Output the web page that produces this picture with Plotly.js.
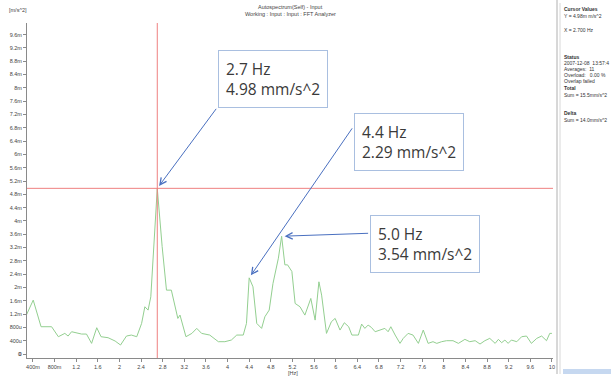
<!DOCTYPE html>
<html><head><meta charset="utf-8">
<script src="https://cdn.plot.ly/plotly-3.0.1.min.js"></script>
<style>html,body{margin:0;padding:0;background:#fff}#chart{width:611px;height:379px}</style>
</head><body><div id="chart"></div>
<script>
// Frequency (Hz) and acceleration (mm/s^2)
const freqHz = [0.27,0.405,0.55,0.745,0.87,0.99,1.05,1.115,1.30,1.39,1.485,1.58,1.66,1.79,1.92,2.02,2.13,2.22,2.32,2.41,2.47,2.53,2.58,2.64,2.70,2.79,2.87,2.96,3.08,3.12,3.23,3.34,3.43,3.52,3.67,3.83,3.95,4.07,4.17,4.29,4.35,4.40,4.47,4.54,4.63,4.69,4.77,4.84,4.94,5.00,5.06,5.11,5.19,5.25,5.34,5.43,5.54,5.62,5.69,5.74,5.83,5.92,5.99,6.08,6.16,6.24,6.30,6.42,6.48,6.54,6.60,6.66,6.73,6.82,6.91,6.97,7.02,7.10,7.19,7.25,7.34,7.43,7.53,7.62,7.71,7.80,7.87,7.96,8.05,8.17,8.27,8.39,8.48,8.58,8.67,8.76,8.85,8.95,9.01,9.07,9.13,9.19,9.25,9.35,9.44,9.53,9.62,9.72,9.81,9.90,9.96,10.0];
const accel = [1.14,1.62,0.82,0.82,0.52,0.62,0.54,0.67,0.60,0.60,0.32,0.79,0.52,0.49,0.39,0.27,0.54,0.57,0.52,0.92,1.42,1.32,1.72,3.23,4.98,3.23,1.92,1.92,1.07,1.17,0.52,0.62,0.77,0.62,0.57,0.37,0.37,0.42,0.57,0.57,0.92,2.29,2.02,0.92,0.77,1.12,1.32,2.12,2.88,3.54,2.68,2.68,2.48,1.52,1.42,1.17,1.67,1.02,2.17,1.77,0.62,0.97,1.07,0.72,0.94,0.82,0.57,0.57,0.90,0.77,0.87,0.80,0.67,0.72,0.77,0.67,0.82,0.57,0.32,0.47,0.62,0.57,0.32,0.72,0.32,0.37,0.32,0.37,0.40,0.40,0.32,0.44,0.37,0.40,0.30,0.40,0.47,0.32,0.44,0.34,0.42,0.32,0.42,0.37,0.52,0.54,0.32,0.47,0.54,0.40,0.62,0.62];

const peakFreq = [2.7, 4.4, 5.0];
const peakAccel = [4.98, 2.29, 3.54];
const peakLabels = ["2.7 Hz<br>4.98 mm/s^2", "4.4 Hz<br>2.29 mm/s^2", "5.0 Hz<br>3.54 mm/s^2"];

const cursorFreq = 2.7;
const cursorAccel = 4.98;

const xTickVals = [0.4,0.8,1.2,1.6,2,2.4,2.8,3.2,3.6,4,4.4,4.8,5.2,5.6,6,6.4,6.8,7.2,7.6,8,8.4,8.8,9.2,9.6,10];
const xTickText = ["400m","800m","1.2","1.6","2","2.4","2.8","3.2","3.6","4","4.4","4.8","5.2","5.6","6","6.4","6.8","7.2","7.6","8","8.4","8.8","9.2","9.6","10"];
const yTickVals = [0,0.4,0.8,1.2,1.6,2,2.4,2.8,3.2,3.6,4,4.4,4.8,5.2,5.6,6,6.4,6.8,7.2,7.6,8,8.4,8.8,9.2,9.6];
const yTickText = ["0","400u","800u","1.2m","1.6m","2m","2.4m","2.8m","3.2m","3.6m","4m","4.4m","4.8m","5.2m","5.6m","6m","6.4m","6.8m","7.2m","7.6m","8m","8.4m","8.8m","9.2m","9.6m"];

const titleLines = ["Autospectrum(Self) - Input", "Working : Input : Input : FFT Analyzer"];

const panelLines = [
  {t:"<b>Cursor Values</b>", y:9},
  {t:"Y = 4.98m m/s^2", y:16},
  {t:"X = 2.700 Hz", y:30},
  {t:"<b>Status</b>", y:57},
  {t:"2007-12-08  13:57:4", y:63},
  {t:"Averages:  11", y:69},
  {t:"Overload:   0.00 %", y:75},
  {t:"Overlap failed", y:81},
  {t:"<b>Total</b>", y:88},
  {t:"Sum = 15.5mm/s^2", y:95},
  {t:"<b>Delta</b>", y:113},
  {t:"Sum = 14.0mm/s^2", y:120}
];

// plot area geometry (pixels)
const L = 27, R = 553, T = 23, B = 358, W = 611, H = 379;
const px = v => (v - L) / (R - L);
const py = v => (B - v) / (B - T);

const boxPos = [[218, 50], [354, 113], [370, 215]];
const arrowTail = [[60, -81], [104, -151], [88, -3]];

const smallFont = {family:'Liberation Sans, Arial, sans-serif', size:5.5, color:'#444'};
const annotations = [];
peakLabels.forEach((txt, i) => {
  annotations.push({
    xref:'paper', yref:'paper', x: px(boxPos[i][0]), y: py(boxPos[i][1]),
    xanchor:'left', yanchor:'top', text: txt, showarrow:false, align:'left',
    font:{family:'Open Sans, Noto Sans, sans-serif', size:15.5, color:'#3a3a3a'},
    bgcolor:'#ffffff', bordercolor:'#a9bfe0', borderwidth:1, borderpad:7
  });
  annotations.push({
    x: peakFreq[i], y: peakAccel[i], xref:'x', yref:'y', text:'', showarrow:true,
    ax: arrowTail[i][0], ay: arrowTail[i][1], arrowhead:5, arrowsize:1.3, arrowwidth:1,
    arrowcolor:'#4a70c0', standoff:3
  });
});
titleLines.forEach((t, i) => {
  annotations.push({xref:'paper', yref:'paper', x: px(290), y: py(7 + 7*i), xanchor:'center', yanchor:'middle',
    text:t, showarrow:false, font:smallFont});
});
panelLines.forEach(p => {
  annotations.push({xref:'paper', yref:'paper', x: px(562), y: py(p.y), xanchor:'left', yanchor:'middle',
    text:p.t, showarrow:false, font:{family:'Liberation Sans, Arial, sans-serif', size:5, color:'#333'}});
});
// zero label of the y axis (Plotly hides it at the axis corner)
annotations.push({xref:'paper', yref:'y', x: px(23), y: yTickVals[0], xanchor:'right', yanchor:'middle',
  text: yTickText[0], showarrow:false, font:smallFont});
annotations.push({xref:'paper', yref:'paper', x: px(7), y: py(10), xanchor:'left', yanchor:'middle',
  text:'[m/s^2]', showarrow:false, font:smallFont});
annotations.push({xref:'paper', yref:'paper', x: px(293), y: py(373), xanchor:'center', yanchor:'middle',
  text:'[Hz]', showarrow:false, font:smallFont});

const shapes = [
  {type:'line', xref:'x', yref:'paper', x0:cursorFreq, x1:cursorFreq, y0:0, y1:1, line:{color:'#ef8080', width:1}},
  {type:'line', xref:'paper', yref:'y', x0:0, x1:1, y0:cursorAccel, y1:cursorAccel, line:{color:'#ef8080', width:1}},
  {type:'line', xref:'paper', yref:'paper', x0:px(557), x1:px(557), y0:py(0), y1:py(374), line:{color:'#b0b0b0', width:1}},
  {type:'line', xref:'paper', yref:'paper', x0:px(560), x1:px(560), y0:py(3), y1:py(374), line:{color:'#d8d8d8', width:1}},
  {type:'rect', xref:'paper', yref:'paper', x0:px(563), x1:px(611), y0:py(369), y1:py(374), fillcolor:'#c6d8f0', line:{width:0}}
];

const trace = {x: freqHz, y: accel, type:'scatter', mode:'lines', line:{color:'#93cf90', width:1}, hoverinfo:'skip'};

const layout = {
  width:W, height:H, margin:{l:L, r:W-R, t:T, b:H-B}, paper_bgcolor:'#fff', plot_bgcolor:'#fff',
  showlegend:false,
  xaxis:{range:[0.29,10.02], tickvals:xTickVals, ticktext:xTickText, showgrid:false, zeroline:false,
    showline:true, linecolor:'#8a8a8a', linewidth:1, ticks:'outside', ticklen:3, tickcolor:'#8a8a8a',
    tickfont:smallFont, tickangle:0, fixedrange:true},
  yaxis:{range:[-0.12,9.95], tickvals:yTickVals, ticktext:yTickText, showgrid:false, zeroline:false,
    showline:true, linecolor:'#8a8a8a', linewidth:1, ticks:'outside', ticklen:3, tickcolor:'#8a8a8a',
    tickfont:smallFont, fixedrange:true},
  annotations, shapes
};
Plotly.newPlot('chart', [trace], layout, {staticPlot:true, displayModeBar:false});
</script></body></html>
